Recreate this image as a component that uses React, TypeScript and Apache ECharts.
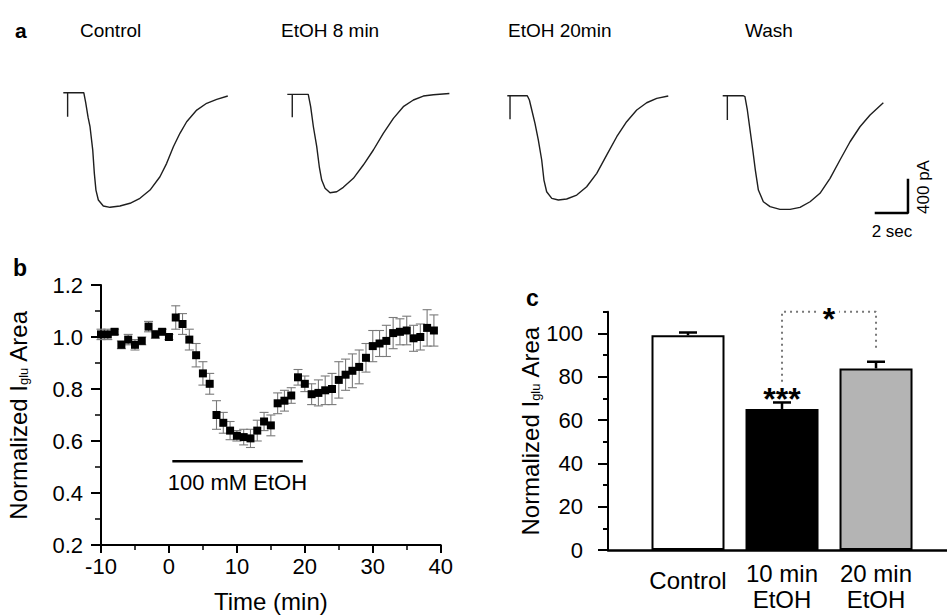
import React, { useEffect, useRef } from 'react';
import * as echarts from 'echarts';

// ---------- Panel a: current traces [time (s), current (pA)] ----------
const traceTitles = ['Control', 'EtOH 8 min', 'EtOH 20min', 'Wash'];
const traceControl: number[][] = [
  [0, 0], [0.27, 0], [0.27, -290], [0.27, 0], [1.28, 0], [1.4, -120], [1.55, -300], [1.67, -412],
  [1.84, -695], [1.94, -977], [2.04, -1180], [2.19, -1300], [2.5, -1373], [2.92, -1389], [3.54, -1373],
  [4.17, -1340], [4.79, -1280], [5.42, -1180], [6.04, -1018], [6.46, -856], [6.88, -655], [7.29, -492],
  [7.71, -352], [8.34, -210], [8.96, -128], [9.59, -80], [10.28, -40],
];
const traceEtoh8: number[][] = [
  [0, 0], [0.31, 0], [0.31, -279], [0.31, 0], [1.31, 0], [1.46, -150], [1.63, -393], [1.84, -635],
  [2.0, -878], [2.15, -1039], [2.36, -1139], [2.67, -1193], [3.09, -1181], [3.5, -1127], [4.13, -1018],
  [4.75, -857], [5.38, -675], [6.0, -473], [6.63, -291], [7.25, -150], [7.88, -69], [8.5, -21],
  [9.13, -5], [10.13, 10],
];
const traceEtoh20: number[][] = [
  [0, 0], [0.17, 0], [0.17, -286], [0.17, 0], [1.25, 0], [1.38, -52], [1.53, -173], [1.73, -335],
  [1.94, -537], [2.15, -779], [2.29, -1022], [2.46, -1164], [2.78, -1244], [3.19, -1264], [3.71, -1252],
  [4.34, -1204], [4.96, -1103], [5.59, -941], [6.21, -719], [6.84, -497], [7.46, -315], [8.09, -173],
  [8.71, -85], [9.34, -32], [10.06, -4],
];
const traceWash: number[][] = [
  [0, 0], [0.29, 0], [0.29, -295], [0.29, 0], [1.29, 0], [1.39, -12], [1.54, -173], [1.71, -416],
  [1.88, -658], [2.04, -901], [2.23, -1143], [2.54, -1285], [2.96, -1345], [3.58, -1377], [4.21, -1377],
  [4.83, -1353], [5.46, -1285], [6.08, -1183], [6.71, -1001], [7.33, -779], [7.96, -558], [8.58, -376],
  [9.21, -234], [10.04, -85],
];
// scale bar: 2 s horizontal, 400 pA vertical
const scaleBar: number[][] = [[9.58, -1422], [11.58, -1422], [11.58, -1022]];

// ---------- Panel b: normalized Iglu area over time ----------
const timeMin = [
  -10, -9, -8, -7, -6, -5, -4, -3, -2, -1, 0, 1, 2, 3, 4, 5, 6, 7, 8, 9, 10, 11, 12, 13, 14,
  15, 16, 17, 18, 19, 20, 21, 22, 23, 24, 25, 26, 27, 28, 29, 30, 31, 32, 33, 34, 35, 36, 37, 38, 39,
];
const iGluNorm = [
  1.01, 1.01, 1.02, 0.97, 0.99, 0.97, 0.985, 1.04, 1.01, 1.02, 1.0, 1.075, 1.05, 0.99, 0.93,
  0.86, 0.82, 0.7, 0.67, 0.64, 0.62, 0.615, 0.61, 0.64, 0.675, 0.66, 0.745, 0.755, 0.775, 0.845,
  0.82, 0.78, 0.785, 0.795, 0.8, 0.835, 0.855, 0.87, 0.885, 0.92, 0.965, 0.975, 0.985, 1.015,
  1.02, 1.025, 0.995, 1.0, 1.035, 1.025,
];
const iGluSem = [
  0.02, 0.02, 0.01, 0.015, 0.02, 0.02, 0.015, 0.02, 0.015, 0.01, 0.01, 0.045, 0.04, 0.04, 0.045,
  0.045, 0.04, 0.055, 0.04, 0.035, 0.02, 0.03, 0.035, 0.04, 0.035, 0.04, 0.04, 0.04, 0.03, 0.03,
  0.03, 0.04, 0.05, 0.055, 0.06, 0.07, 0.06, 0.065, 0.065, 0.055, 0.06, 0.05, 0.06, 0.06,
  0.05, 0.055, 0.05, 0.05, 0.07, 0.06,
];
const ethanolPeriod: number[][] = [[0.5, 0.522], [19.7, 0.522]];
const ethanolLabel = '100 mM EtOH';

// ---------- Panel c: bar chart ----------
const barCategories = ['Control', '10 min\nEtOH', '20 min\nEtOH'];
const barPositions = [1, 2, 3];
const barValues = [99.1, 65.1, 83.8];
const barSem = [1.3, 3.0, 3.1];
const barColors = ['#ffffff', '#000000', '#b4b4b4'];
const yTicksC = [0, 20, 40, 60, 80, 100];
const yMinorTicksC = [10, 30, 50, 70, 90, 110];
const bracket: number[][] = [[2, 77.7], [2, 110], [3, 110], [3, 93.1]];

const FONT = '"Liberation Sans", Arial, Helvetica, sans-serif';

function buildOption(): any {
  const traces = [traceControl, traceEtoh8, traceEtoh20, traceWash];
  const traceGrids = [
    { left: 63.3, top: 88.6 },
    { left: 287.3, top: 90.2 },
    { left: 507.3, top: 91.6 },
    { left: 722.7, top: 91.6 },
  ];
  const grids: any[] = traceGrids.map((g) => ({
    ...g, width: 192, height: 123.75, containLabel: false, outerBoundsMode: 'none',
  }));
  grids.push({ left: 101, top: 285, width: 339.7, height: 260, containLabel: false, outerBoundsMode: 'none' });
  grids.push({ left: 608, top: 311.7, width: 339, height: 238.3, containLabel: false, outerBoundsMode: 'none' });

  const xAxes: any[] = traceGrids.map((_, i) => ({
    type: 'value', gridIndex: i, min: 0, max: 12, show: false,
  }));
  const yAxes: any[] = traceGrids.map((_, i) => ({
    type: 'value', gridIndex: i, min: -1450, max: 50, show: false,
  }));

  const nameRich = {
    s: { fontSize: 13, color: '#000', fontFamily: FONT, verticalAlign: 'bottom', lineHeight: 13 },
  };

  // panel b axes
  xAxes.push({
    type: 'value', gridIndex: 4, min: -10, max: 40, interval: 10,
    name: 'Time (min)', nameLocation: 'middle', nameGap: 44,
    nameTextStyle: { fontSize: 24, color: '#000', fontFamily: FONT },
    axisLine: { show: true, onZero: false, lineStyle: { color: '#000', width: 2 } },
    axisTick: { show: true, length: 8, lineStyle: { color: '#000', width: 2 } },
    minorTick: { show: true, splitNumber: 2, length: 5, lineStyle: { color: '#000', width: 1.5 } },
    axisLabel: { fontSize: 22, color: '#000', fontFamily: FONT, margin: 10 },
    splitLine: { show: false },
  });
  yAxes.push({
    type: 'value', gridIndex: 4, min: 0.2, max: 1.2, interval: 0.2,
    name: 'Normalized I{s|glu} Area', nameLocation: 'middle', nameGap: 71,
    nameTextStyle: { fontSize: 24, color: '#000', fontFamily: FONT, rich: nameRich },
    axisLine: { show: true, onZero: false, lineStyle: { color: '#000', width: 2 } },
    axisTick: { show: true, length: 10, lineStyle: { color: '#000', width: 2 } },
    minorTick: { show: true, splitNumber: 2, length: 6, lineStyle: { color: '#000', width: 1.5 } },
    axisLabel: { fontSize: 22, color: '#000', fontFamily: FONT, margin: 18, formatter: (v: number) => v.toFixed(1) },
    splitLine: { show: false },
  });

  // panel c axes
  xAxes.push({
    type: 'value', gridIndex: 5, min: 0.149, max: 3.755,
    axisLine: { show: true, onZero: false, lineStyle: { color: '#000', width: 2.5 } },
    axisTick: { show: false },
    axisLabel: {
      customValues: barPositions,
      fontSize: 24, color: '#000', fontFamily: FONT, margin: 10, lineHeight: 26,
      formatter: (v: number) => {
        const idx = barPositions.indexOf(Math.round(v));
        if (idx < 0) return '';
        return idx === 0 ? '{c|' + barCategories[0] + '}' : barCategories[idx];
      },
      rich: { c: { fontSize: 24, color: '#000', fontFamily: FONT, padding: [14, 0, 0, 0] } },
    },
    splitLine: { show: false },
  });
  yAxes.push({
    type: 'value', gridIndex: 5, min: 0, max: 110, position: 'left',
    name: 'Normalized I{s|glu} Area', nameLocation: 'middle', nameGap: 37,
    nameTextStyle: { fontSize: 24, color: '#000', fontFamily: FONT, rich: nameRich },
    axisLine: { show: true, onZero: false, lineStyle: { color: '#000', width: 2 } },
    axisTick: { show: true, customValues: yTicksC, length: 10, lineStyle: { color: '#000', width: 2 } },
    axisLabel: { customValues: yTicksC, fontSize: 22, color: '#000', fontFamily: FONT, margin: 25 },
    splitLine: { show: false },
  });
  yAxes.push({
    type: 'value', gridIndex: 5, min: 0, max: 110, position: 'left',
    axisLine: { show: false, onZero: false },
    axisTick: { show: true, customValues: yMinorTicksC, length: 5, lineStyle: { color: '#000', width: 2 } },
    axisLabel: { show: false },
    splitLine: { show: false },
  });

  const series: any[] = traces.map((d, i) => ({
    type: 'line', xAxisIndex: i, yAxisIndex: i, data: d, showSymbol: false, clip: false,
    lineStyle: { color: '#1e1e1e', width: 1.4 }, silent: true,
  }));
  series.push({
    type: 'line', xAxisIndex: 3, yAxisIndex: 3, data: scaleBar, showSymbol: false, clip: false,
    lineStyle: { color: '#000', width: 2.5, cap: 'square' },
  });

  // panel b error bars
  series.push({
    type: 'custom', xAxisIndex: 4, yAxisIndex: 4, z: 2,
    data: timeMin.map((t, i) => [t, iGluNorm[i] - iGluSem[i], iGluNorm[i] + iGluSem[i]]),
    encode: { x: 0, y: [1, 2] },
    renderItem: (_p: any, api: any) => {
      const lo = api.coord([api.value(0), api.value(1)]);
      const hi = api.coord([api.value(0), api.value(2)]);
      const w = 4.5;
      const st = { stroke: '#7a7a7a', lineWidth: 1.1 };
      return {
        type: 'group',
        children: [
          { type: 'line', shape: { x1: lo[0], y1: lo[1], x2: hi[0], y2: hi[1] }, style: st },
          { type: 'line', shape: { x1: lo[0] - w, y1: lo[1], x2: lo[0] + w, y2: lo[1] }, style: st },
          { type: 'line', shape: { x1: hi[0] - w, y1: hi[1], x2: hi[0] + w, y2: hi[1] }, style: st },
        ],
      };
    },
  });
  series.push({
    type: 'scatter', xAxisIndex: 4, yAxisIndex: 4, z: 3, symbol: 'rect', symbolSize: 8,
    itemStyle: { color: '#000', opacity: 1 },
    data: timeMin.map((t, i) => [t, iGluNorm[i]]),
  });
  series.push({
    type: 'line', xAxisIndex: 4, yAxisIndex: 4, data: ethanolPeriod, showSymbol: false,
    lineStyle: { color: '#000', width: 2.5 },
  });
  series.push({
    type: 'scatter', xAxisIndex: 4, yAxisIndex: 4, symbolSize: 0,
    itemStyle: { opacity: 1 },
    data: [[10.07, 0.442]],
    label: {
      show: true, position: 'inside', formatter: ethanolLabel,
      fontSize: 22, color: '#000', opacity: 1, fontFamily: FONT,
    },
  });

  // panel c bars
  series.push({
    type: 'bar', xAxisIndex: 5, yAxisIndex: 5, barWidth: 73, z: 2,
    data: barPositions.map((p, i) => ({
      value: [p, barValues[i]],
      itemStyle: { color: barColors[i], borderColor: '#000', borderWidth: 2 },
    })),
  });
  series.push({
    type: 'custom', xAxisIndex: 5, yAxisIndex: 5, z: 3,
    data: barPositions.map((p, i) => [p, barValues[i], barValues[i] + barSem[i]]),
    encode: { x: 0, y: [1, 2] },
    renderItem: (_p: any, api: any) => {
      const lo = api.coord([api.value(0), api.value(1)]);
      const hi = api.coord([api.value(0), api.value(2)]);
      const w = 9;
      const st = { stroke: '#000', lineWidth: 2.5 };
      return {
        type: 'group',
        children: [
          { type: 'line', shape: { x1: lo[0], y1: lo[1], x2: hi[0], y2: hi[1] }, style: st },
          { type: 'line', shape: { x1: hi[0] - w, y1: hi[1], x2: hi[0] + w, y2: hi[1] }, style: st },
        ],
      };
    },
  });
  series.push({
    type: 'line', xAxisIndex: 5, yAxisIndex: 5, data: bracket, showSymbol: false, clip: false, z: 1,
    lineStyle: { color: '#777', width: 2, type: [2, 4] },
  });
  series.push({
    type: 'scatter', xAxisIndex: 5, yAxisIndex: 5, symbolSize: 0, z: 5,
    itemStyle: { opacity: 1 },
    data: [
      { value: [2, 69.5], label: { formatter: '***' } },
      { value: [2.5, 106.6], label: { formatter: '*', backgroundColor: '#fff', padding: [0, 4, 0, 4] } },
    ],
    label: {
      show: true, position: 'inside', fontSize: 32, fontWeight: 'bold', color: '#000', opacity: 1, fontFamily: FONT,
    },
  });

  const txt = (text: string, x: number, y: number, size: number, extra: any = {}) => ({
    type: 'text', x, y, ...extra,
    style: {
      text, fontSize: size, fontFamily: FONT, fill: '#000', align: 'left', verticalAlign: 'middle',
      ...(extra.style || {}),
    },
  });

  const graphic: any[] = [
    txt('a', 15, 30, 21, { style: { fontWeight: 'bold' } }),
    txt(traceTitles[0], 80, 30, 19),
    txt(traceTitles[1], 281, 30, 19),
    txt(traceTitles[2], 508, 30, 19),
    txt(traceTitles[3], 745, 30, 19),
    txt('b', 13, 268, 23, { style: { fontWeight: 'bold' } }),
    txt('c', 526, 298, 23, { style: { fontWeight: 'bold' } }),
    txt('2 sec', 892, 231, 17, { style: { align: 'center' } }),
    txt('400 pA', 923, 187, 17, { rotation: Math.PI / 2, style: { align: 'center' } }),
  ];

  return {
    animation: false,
    backgroundColor: '#ffffff',
    textStyle: { fontFamily: FONT },
    grid: grids,
    xAxis: xAxes,
    yAxis: yAxes,
    series,
    graphic,
  };
}

export default function App() {
  const ref = useRef<HTMLDivElement>(null);
  useEffect(() => {
    document.body.style.margin = '0';
    if (!ref.current) return;
    const chart = echarts.init(ref.current, undefined, { renderer: 'svg' });
    chart.setOption(buildOption());
    return () => chart.dispose();
  }, []);
  return <div ref={ref} style={{ width: 947, height: 615 }} />;
}
